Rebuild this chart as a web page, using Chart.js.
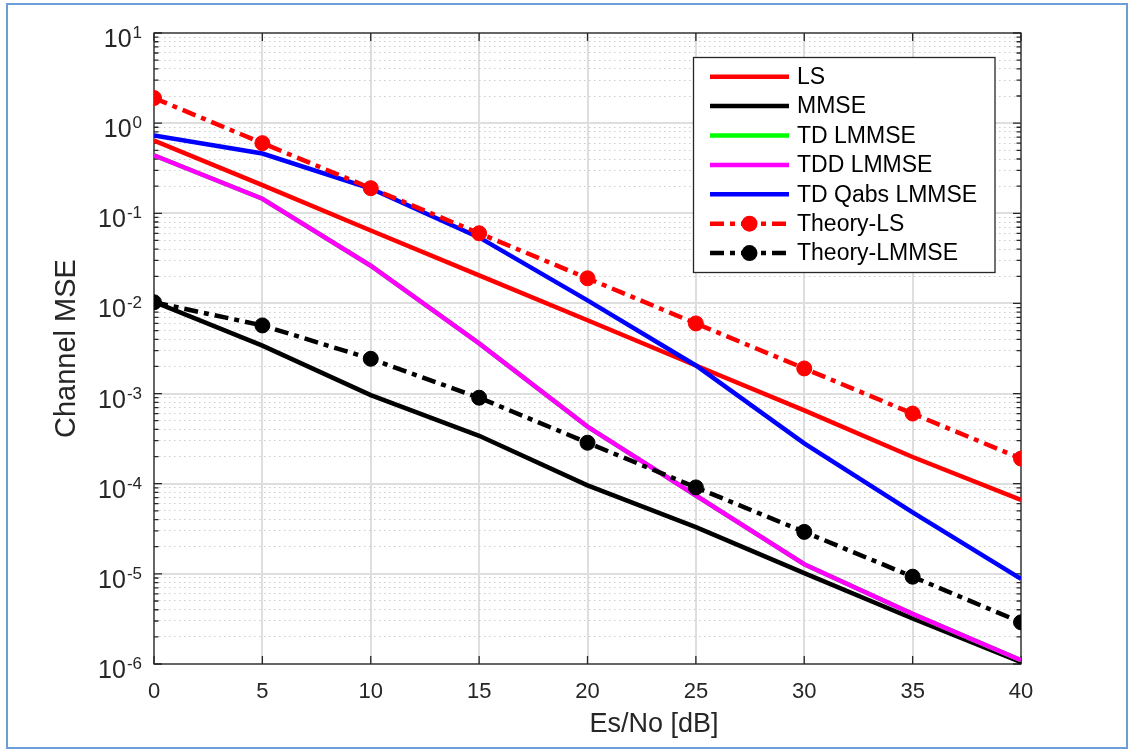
<!DOCTYPE html>
<html>
<head>
<meta charset="utf-8">
<script src="https://cdn.jsdelivr.net/npm/chart.js@4.4.1/dist/chart.umd.min.js"></script>
<style>
  html, body { margin: 0; padding: 0; background: #fff; }
  #wrap { position: relative; width: 1128px; height: 749px; }
  #frame { position: absolute; left: 6px; top: 3px; width: 1122px; height: 746px; box-sizing: border-box; border: 2px solid #6a9fd8; pointer-events: none; }
</style>
</head>
<body>
<div id="wrap">
  <canvas id="chart" width="1128" height="749"></canvas>
  <div id="frame"></div>
</div>
<script>
// Es/No in dB
const esNo = [0, 5, 10, 15, 20, 25, 30, 35, 40];

// channel MSE per estimator
const lsMse = [0.64, 0.205, 0.0645, 0.0205, 0.0065, 0.00205, 0.00065, 0.000198, 0.000066];
const mmseMse = [0.0104, 0.0034, 0.00096, 0.00034, 0.000096, 0.000033, 0.0000102, 0.0000032, 0.00000105];
const tdLmmseMse = [0.44, 0.145, 0.0262, 0.0036, 0.00043, 0.000074, 0.0000128, 0.0000036, 0.0000011];
const tddLmmseMse = [0.44, 0.145, 0.0262, 0.0036, 0.00043, 0.000074, 0.0000128, 0.0000036, 0.0000011];
const tdQabsMse = [0.73, 0.46, 0.188, 0.054, 0.0108, 0.00205, 0.00028, 0.000048, 0.0000088];
const theoryLs = [1.9, 0.6, 0.19, 0.06, 0.019, 0.006, 0.0019, 0.0006, 0.00019];
const theoryLmmse = [0.0103, 0.0057, 0.00243, 0.0009, 0.000285, 0.000091, 0.0000292, 0.0000093, 0.0000029];

const yDecades = [-6, -5, -4, -3, -2, -1, 0, 1];

const FONT = '"Liberation Sans", Arial, sans-serif';
const INK = '#262626';
const DASHDOT = [14, 6, 5, 6];

const series = [
  { label: 'LS', data: lsMse, color: '#ff0000' },
  { label: 'MMSE', data: mmseMse, color: '#000000' },
  { label: 'TD LMMSE', data: tdLmmseMse, color: '#00ff00' },
  { label: 'TDD LMMSE', data: tddLmmseMse, color: '#ff00ff' },
  { label: 'TD Qabs LMMSE', data: tdQabsMse, color: '#0000ff' },
  { label: 'Theory-LS', data: theoryLs, color: '#ff0000', dash: DASHDOT, marker: true },
  { label: 'Theory-LMMSE', data: theoryLmmse, color: '#000000', dash: DASHDOT, marker: true },
];

const datasets = series.map((s, i) => ({
  label: s.label,
  data: esNo.map((x, j) => ({ x: x, y: s.data[j] })),
  borderColor: s.color,
  backgroundColor: s.color,
  borderWidth: 4.5,
  borderDash: s.dash || [],
  pointRadius: s.marker ? 7.5 : 0,
  pointBorderWidth: 1,
  pointBackgroundColor: s.color,
  pointBorderColor: s.color,
  tension: 0,
  order: series.length - i, // later series on top, like matlab
}));

const isMajor = ctx => ctx.tick && ctx.tick.major;

// box, inward ticks, y labels with superscripts, x title, legend
const matlabAxes = {
  id: 'matlabAxes',
  beforeDatasetsDraw(chart) {
    const { ctx, chartArea: a, scales: { x, y } } = chart;
    ctx.save();
    ctx.strokeStyle = INK;
    ctx.lineWidth = 1.3;
    ctx.beginPath();
    x.ticks.forEach(t => {
      const px = x.getPixelForValue(t.value);
      ctx.moveTo(px, a.bottom); ctx.lineTo(px, a.bottom - 8);
      ctx.moveTo(px, a.top); ctx.lineTo(px, a.top + 8);
    });
    y.ticks.forEach(t => {
      const py = y.getPixelForValue(t.value);
      const len = t.major ? 8 : 4.5;
      ctx.moveTo(a.left, py); ctx.lineTo(a.left + len, py);
      ctx.moveTo(a.right, py); ctx.lineTo(a.right - len, py);
    });
    ctx.stroke();
    ctx.strokeRect(a.left, a.top, a.right - a.left, a.bottom - a.top);
    ctx.restore();
  },
  afterDraw(chart) {
    const { ctx, scales: { y } } = chart;
    ctx.save();
    ctx.fillStyle = INK;
    ctx.textAlign = 'left';
    ctx.textBaseline = 'alphabetic';
    y.ticks.filter(t => t.major).forEach(t => {
      const py = y.getPixelForValue(t.value);
      const exp = String(Math.round(Math.log10(t.value)));
      ctx.font = '17px ' + FONT;
      const ew = ctx.measureText(exp).width;
      ctx.font = '25px ' + FONT;
      const bw = ctx.measureText('10').width;
      const right = y.right - 12;
      ctx.fillText('10', right - ew - bw - 1, py + 14);
      ctx.font = '17px ' + FONT;
      ctx.fillText(exp, right - ew, py + 5);
    });

    // x axis title (sits right of centre in the original)
    ctx.font = '27px ' + FONT;
    ctx.textAlign = 'center';
    ctx.textBaseline = 'middle';
    ctx.fillText('Es/No [dB]', 654, 725);

    // legend box
    ctx.textAlign = 'left';
    const lx = 693.5, ly = 57.5, lw = 301.5, lh = 215;
    ctx.fillStyle = '#fff';
    ctx.fillRect(lx, ly, lw, lh);
    ctx.strokeStyle = INK;
    ctx.lineWidth = 1.3;
    ctx.strokeRect(lx, ly, lw, lh);
    chart.data.datasets.forEach((ds, i) => {
      const ry = 76.7 + i * 29.4;
      ctx.strokeStyle = ds.borderColor;
      ctx.lineWidth = ds.borderWidth;
      ctx.setLineDash(ds.borderDash);
      ctx.beginPath();
      ctx.moveTo(710, ry);
      ctx.lineTo(789, ry);
      ctx.stroke();
      ctx.setLineDash([]);
      if (ds.pointRadius > 0) {
        ctx.fillStyle = ds.pointBackgroundColor;
        ctx.beginPath();
        ctx.arc(749.5, ry, ds.pointRadius + 0.5, 0, Math.PI * 2);
        ctx.fill();
      }
      ctx.fillStyle = '#000';
      ctx.font = '23px ' + FONT;
      ctx.textBaseline = 'middle';
      ctx.fillText(ds.label, 797, ry + 1);
    });
    ctx.restore();
  }
};

new Chart(document.getElementById('chart'), {
  type: 'line',
  data: { datasets: datasets },
  options: {
    responsive: false,
    animation: false,
    devicePixelRatio: 1,
    layout: { padding: { top: 33, right: 107, left: 0, bottom: 0 } },
    plugins: { legend: { display: false }, tooltip: { enabled: false } },
    scales: {
      x: {
        type: 'linear',
        min: 0,
        max: 40,
        ticks: { stepSize: 5, padding: 15, color: INK, maxRotation: 0, font: { size: 22, family: FONT } },
        grid: { color: '#dedede', lineWidth: 2, drawTicks: false },
        border: { display: false },
        afterFit: s => { s.height = 85; },
      },
      y: {
        type: 'logarithmic',
        min: 1e-6,
        max: 10,
        afterBuildTicks: scale => {
          const ticks = [];
          yDecades.forEach(e => {
            for (let m = 1; m <= 9; m++) {
              if (e === yDecades[yDecades.length - 1] && m > 1) break;
              ticks.push({ value: m * Math.pow(10, e), major: m === 1 });
            }
          });
          scale.ticks = ticks;
        },
        ticks: { autoSkip: false, callback: () => '', font: { size: 10 } },
        grid: {
          color: ctx => isMajor(ctx) ? '#dedede' : '#cccccc',
          lineWidth: ctx => isMajor(ctx) ? 2 : 1,
          drawTicks: false,
        },
        border: { display: false, dash: ctx => (ctx.tick && !ctx.tick.major) ? [1.5, 3.5] : [] },
        title: { display: true, text: 'Channel MSE', color: INK, font: { size: 29, family: FONT }, padding: { top: 50, bottom: 0 } },
        afterFit: s => { s.width = 154; },
      },
    },
  },
  plugins: [matlabAxes],
});
</script>
</body>
</html>
